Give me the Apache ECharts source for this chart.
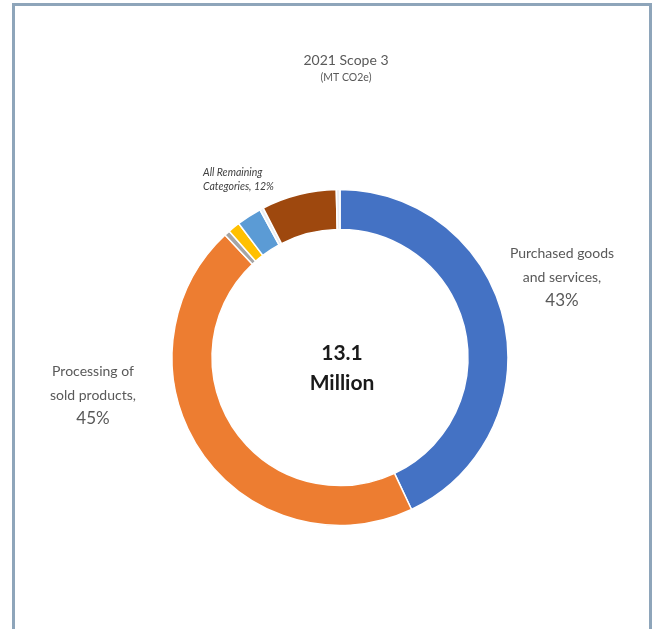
<!DOCTYPE html>
<html>
<head>
<meta charset="utf-8">
<script src="https://cdn.jsdelivr.net/npm/echarts@6/dist/echarts.min.js"></script>
<style>
  html, body { margin: 0; padding: 0; background: #ffffff; }
  #chart { width: 652px; height: 629px; }
</style>
</head>
<body>
<div id="chart"></div>
<script>
// Scope 3 emission categories, share of total (%), clockwise from 12 o'clock
const categories = [
  'Purchased goods\nand services',
  'Processing of\nsold products',
  'Category A',
  'Category B',
  'Category C',
  'Category D',
  'Category E',
  'Category F'
];
const shares = [43, 45, 0.55, 1.15, 2.4, 0.35, 7.2, 0.35];
const sliceColors = ['#4472c4', '#ed7d31', '#a5a5a5', '#ffc000', '#5b9bd5', '#e9edf3', '#9e480e', '#e9edf3'];
// indices of the small categories grouped under one label
const remainingIdx = [2, 3, 4, 5, 6, 7];
const remainingLabelIdx = 6;

const titleText = '2021 Scope 3';
const subtitleText = '(MT CO2e)';
const totalText = ['13.1', 'Million'];

const total = shares.reduce((a, b) => a + b, 0);
const remainingPct = Math.round(remainingIdx.reduce((s, i) => s + shares[i], 0) / total * 100);

const font = 'Lato, "Open Sans", sans-serif';

const data = categories.map((name, i) => {
  const item = { name: name, value: shares[i], itemStyle: { color: sliceColors[i] } };
  if (i === 0 || i === 1) {
    item.label = {
      show: true,
      formatter: p => '{n|' + p.name.replace('\n', '}\n{n|') + ',}\n{p|' + Math.round(p.value / total * 100) + '%}',
      rich: {
        n: { fontFamily: font, fontSize: 14, color: '#595959', lineHeight: 24, align: 'center' },
        p: { fontFamily: font, fontSize: 17, color: '#595959', lineHeight: 24, align: 'center' }
      }
    };
  } else if (i === remainingLabelIdx) {
    item.label = {
      show: true,
      formatter: () => '{r|All Remaining}\n{r|Categories, ' + remainingPct + '%}',
      rich: {
        r: { fontFamily: font, fontSize: 10.5, fontStyle: 'italic', color: '#404040', lineHeight: 14, align: 'left' }
      }
    };
  } else {
    item.label = { show: false };
  }
  return item;
});

// where each visible label block sits
const labelSpots = {
  0: { x: 562, y: 277, align: 'center' },
  1: { x: 93, y: 395, align: 'center' },
  6: { x: 203, y: 180, align: 'left' }
};

const chart = echarts.init(document.getElementById('chart'), null, { renderer: 'canvas' });
chart.setOption({
  backgroundColor: '#ffffff',
  animation: false,
  title: {
    text: titleText,
    subtext: subtitleText,
    left: 341,
    top: 48,
    textAlign: 'center',
    itemGap: 5,
    textStyle: { fontFamily: font, fontSize: 14, fontWeight: 'normal', color: '#595959' },
    subtextStyle: { fontFamily: font, fontSize: 10.5, color: '#595959' }
  },
  graphic: [
    // frame lines
    { type: 'rect', shape: { x: 12, y: 3, width: 640, height: 3 }, style: { fill: '#8ea5ba' }, silent: true },
    { type: 'rect', shape: { x: 12, y: 3, width: 3, height: 626 }, style: { fill: '#8ea5ba' }, silent: true },
    { type: 'rect', shape: { x: 649, y: 3, width: 3, height: 626 }, style: { fill: '#8ea5ba' }, silent: true },
    // total in the hole
    {
      type: 'text',
      x: 342,
      y: 368,
      silent: true,
      style: {
        text: totalText.join('\n'),
        font: 'bold 21px ' + font,
        fill: '#1a1a1a',
        align: 'center',
        verticalAlign: 'middle',
        lineHeight: 30
      }
    }
  ],
  series: [{
    type: 'pie',
    center: [340, 357.5],
    radius: [128, 168],
    startAngle: 90,
    clockwise: true,
    avoidLabelOverlap: false,
    silent: true,
    itemStyle: { borderColor: '#ffffff', borderWidth: 1.5 },
    labelLine: { show: false },
    label: { position: 'outside' },
    labelLayout: p => {
      const s = labelSpots[p.dataIndex];
      if (!s) return {};
      return { x: s.x, y: s.y, align: s.align, verticalAlign: 'middle', hideOverlap: false, moveOverlap: false };
    },
    data: data
  }]
});
</script>
</body>
</html>
